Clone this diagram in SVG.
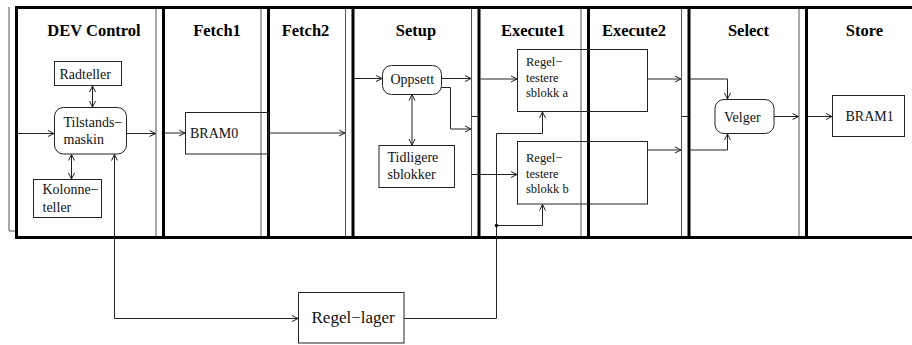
<svg xmlns="http://www.w3.org/2000/svg" width="912" height="345" viewBox="0 0 912 345">
<style>
.thick{stroke:#000;stroke-width:3;fill:none}
.thin{stroke:#555;stroke-width:1;fill:none}
.box{stroke:#222;stroke-width:1;fill:none}
.ln{stroke:#222;stroke-width:1;fill:none}
.t{font-family:"Liberation Serif","Times New Roman",serif;font-size:14px;fill:#111}
.ts{font-family:"Liberation Serif","Times New Roman",serif;font-size:12.5px;fill:#111}
.tl{font-family:"Liberation Serif","Times New Roman",serif;font-size:17px;fill:#111}
.h{font-family:"Liberation Serif","Times New Roman",serif;font-size:16.5px;font-weight:bold;fill:#000;text-anchor:middle}
</style>
<defs>
<marker id="ah" viewBox="0 0 8 8" refX="7.5" refY="4" markerWidth="8" markerHeight="8" markerUnits="userSpaceOnUse" orient="auto-start-reverse">
<path d="M1.5,1 L7.5,4 L1.5,7" fill="none" stroke="#222" stroke-width="1"/>
</marker>
</defs>
<rect width="912" height="345" fill="#fff"/>
<g id="stages">
<path class="thin" d="M9,7 V231 H16.5"/>
<path class="thin" d="M156,7V237 M261,7V237 M345.5,7V237 M471.5,7V237 M581,7V237 M681.5,7V237 M799,7V237"/>
<path class="thick" d="M16.5,7V237 M163.5,7V237 M268.5,7V237 M353,7V237 M479,7V237 M588.5,7V237 M689,7V237 M806.5,7V237"/>
<path class="thick" d="M15,7.5H912 M15,237.5H912"/>
<text class="h" x="94" y="36">DEV Control</text>
<text class="h" x="217" y="36">Fetch1</text>
<text class="h" x="305.5" y="36">Fetch2</text>
<text class="h" x="416" y="36">Setup</text>
<text class="h" x="533" y="36">Execute1</text>
<text class="h" x="634" y="36">Execute2</text>
<text class="h" x="748.5" y="36">Select</text>
<text class="h" x="864.5" y="36">Store</text>
</g>
<g id="radteller">
<rect class="box" x="54.5" y="61.5" width="67" height="24"/>
<text class="t" x="59.5" y="78.5">Radteller</text>
</g>
<g id="tilstandsmaskin">
<rect class="box" x="54.5" y="107.5" width="72" height="46.5" rx="9"/>
<text class="t" x="63.5" y="127">Tilstands−</text>
<text class="t" x="63.5" y="144">maskin</text>
</g>
<g id="kolonneteller">
<rect class="box" x="33.5" y="179.5" width="68" height="38"/>
<text class="t" x="42.5" y="194">Kolonne−</text>
<text class="t" x="42.5" y="211.5">teller</text>
</g>
<g id="bram0">
<rect class="box" x="185.5" y="112.5" width="83" height="41.5"/>
<text class="t" x="190" y="137.5">BRAM0</text>
</g>
<g id="oppsett">
<rect class="box" x="382.5" y="65.5" width="59" height="29" rx="9"/>
<text class="t" x="390.5" y="84">Oppsett</text>
</g>
<g id="tidligere">
<rect class="box" x="379" y="145.5" width="75.5" height="42"/>
<text class="t" x="387.5" y="161.5">Tidligere</text>
<text class="t" x="387.5" y="178.5">sblokker</text>
</g>
<g id="regeltester-a">
<rect class="box" x="517.5" y="49.5" width="130" height="62"/>
<text class="ts" x="526" y="66">Regel−</text>
<text class="ts" x="526" y="81.5">testere</text>
<text class="ts" x="526" y="97">sblokk a</text>
</g>
<g id="regeltester-b">
<rect class="box" x="517.5" y="141.5" width="130" height="62.5"/>
<text class="ts" x="526" y="161.5">Regel−</text>
<text class="ts" x="526" y="177.5">testere</text>
<text class="ts" x="526" y="193">sblokk b</text>
</g>
<g id="velger">
<rect class="box" x="715" y="99.5" width="59" height="34" rx="9"/>
<text class="t" x="724" y="121.5">Velger</text>
</g>
<g id="bram1">
<rect class="box" x="832.5" y="95.5" width="72" height="41"/>
<text class="t" x="845.5" y="121">BRAM1</text>
</g>
<g id="regel-lager">
<rect class="box" x="298.5" y="292.5" width="105.5" height="50.5"/>
<text class="tl" x="311.5" y="323">Regel−lager</text>
</g>
<g id="connectors">
<path class="ln" d="M17,133.5H54" marker-end="url(#ah)"/>
<path class="ln" d="M126.5,133.5H155.5" marker-end="url(#ah)"/>
<path class="ln" d="M92.5,86V107" marker-start="url(#ah)" marker-end="url(#ah)"/>
<path class="ln" d="M71.5,154.5V179" marker-start="url(#ah)" marker-end="url(#ah)"/>
<path class="ln" d="M114.5,154.5V318.5H298" marker-start="url(#ah)" marker-end="url(#ah)"/>
<path class="ln" d="M165,133H185" marker-end="url(#ah)"/>
<path class="ln" d="M268.5,133H345" marker-end="url(#ah)"/>
<path class="ln" d="M354,78.5H382" marker-end="url(#ah)"/>
<path class="ln" d="M441.5,78.5H471" marker-end="url(#ah)"/>
<path class="ln" d="M441.5,87.5H450.5V129H471" marker-end="url(#ah)"/>
<path class="ln" d="M412,94.5V145" marker-start="url(#ah)" marker-end="url(#ah)"/>
<path class="ln" d="M471.5,116.5H479"/>
<path class="ln" d="M480.5,79H517" marker-end="url(#ah)"/>
<path class="ln" d="M471.5,174.5H517" marker-end="url(#ah)"/>
<path class="ln" d="M404,318.5H496.5V133.5H542.5V112" marker-end="url(#ah)"/>
<path class="ln" d="M496.5,225.5H542.5V204.5" marker-end="url(#ah)"/>
<circle cx="496.5" cy="225.5" r="1.8" fill="#111"/>
<path class="ln" d="M647.5,79H681" marker-end="url(#ah)"/>
<path class="ln" d="M647.5,150H681" marker-end="url(#ah)"/>
<path class="ln" d="M681.5,116.5H689"/>
<path class="ln" d="M690,79H727.5V99" marker-end="url(#ah)"/>
<path class="ln" d="M690,150H727.5V134" marker-end="url(#ah)"/>
<path class="ln" d="M774,116.5H798.5" marker-end="url(#ah)"/>
<path class="ln" d="M807.5,116.5H832" marker-end="url(#ah)"/>
</g>
</svg>
